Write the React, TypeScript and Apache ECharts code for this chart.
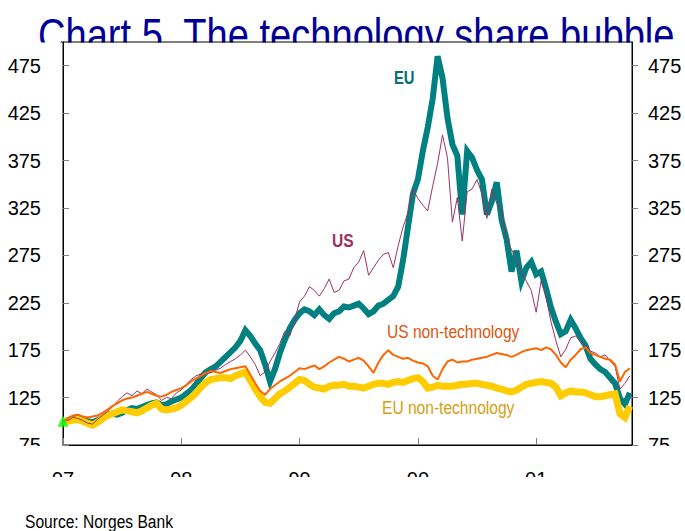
import React, { useEffect, useRef } from "react";
import * as echarts from "echarts";

// ---- data (semi-monthly readings, Jan 1997 = 100) ----
const startYear = 1997;
const stepYears = 1 / 24;

const eu = [
  100, 101, 103, 104, 102, 100, 99, 101, 104, 107, 108, 107, 109, 112, 114, 113, 115, 117, 119, 120,
  117, 118, 121, 123, 125, 129, 133, 139, 146, 152, 155, 158, 163, 168, 173, 178, 185, 196, 190, 182,
  175, 160, 142, 155, 172, 186, 198, 207, 214, 218, 216, 212, 218, 212, 208, 214, 216, 221, 220, 222,
  224, 219, 213, 216, 222, 224, 228, 232, 242, 270, 305, 340, 355, 385, 410, 440, 485, 462, 420, 392,
  380, 318, 385, 378, 365, 355, 318, 332, 352, 312, 292, 258, 280, 248, 262, 268, 255, 258, 240, 220,
  205, 192, 195, 207, 198, 188, 180, 166, 160, 155, 152, 146, 140, 124, 118, 130,
];

const us = [
  100, 101, 104, 103, 101, 98, 97, 102, 106, 110, 115, 121, 126, 130, 127, 132, 129, 134, 131, 128,
  122, 125, 124, 130, 133, 139, 144, 148, 150, 152, 151, 154, 156, 160, 163, 166, 170, 175, 168, 160,
  148, 152, 163, 172, 182, 195, 190, 207, 226, 232, 242, 238, 232, 240, 250, 236, 238, 248, 250, 262,
  268, 280, 254, 262, 270, 276, 278, 262, 285, 305, 320, 345, 335, 328, 322, 348, 372, 402, 378, 310,
  336, 290, 342, 345, 355, 340, 314, 345, 330, 322, 292, 281, 270, 256, 248, 238, 215, 248, 232, 205,
  185, 168, 176, 188, 190, 184, 180, 174, 172, 168, 170, 164, 158, 134, 140, 148,
];

const usNonTech = [
  100, 103, 106, 107, 105, 104, 105, 106, 109, 112, 116, 119, 122, 124, 125, 127, 129, 131, 129, 127,
  126, 128, 131, 133, 135, 138, 142, 145, 148, 151, 153, 152, 151, 153, 155, 156, 157, 158, 149, 140,
  132, 128, 134, 138, 142, 145, 148, 152, 156, 155, 157, 159, 155, 158, 162, 165, 168, 166, 163, 165,
  167, 164, 158, 151, 162, 170, 175, 170, 168, 166, 167, 164, 162, 161, 158, 148, 144, 155, 163, 165,
  162, 163, 163, 165, 166, 167, 168, 170, 172, 171, 170, 168, 170, 173, 175, 176, 177, 175, 178, 176,
  170, 162, 157, 165, 170, 176, 178, 172, 170, 168, 166, 165, 160, 142, 152, 156,
];

const euNonTech = [
  100, 100, 101, 102, 100, 98, 96, 99, 103, 106, 108, 110, 112, 111, 110, 109, 111, 114, 117, 119,
  113, 112, 113, 114, 117, 121, 125, 130, 136, 141, 144, 145, 146, 146, 145, 148, 150, 152, 143, 134,
  126, 120, 119, 124, 129, 132, 136, 140, 144, 143, 139, 136, 135, 134, 137, 138, 138, 139, 137, 137,
  136, 135, 137, 139, 140, 140, 139, 141, 142, 141, 143, 145, 146, 142, 135, 136, 138, 137, 137, 137,
  138, 139, 139, 140, 140, 139, 138, 137, 135, 134, 132, 131, 133, 136, 139, 140, 141, 142, 141, 140,
  136, 127, 130, 132, 131, 131, 130, 128, 126, 126, 127, 128, 129, 108, 104, 116,
];

const yTicks = [75, 125, 175, 225, 275, 325, 375, 425, 475];
const xTicks = [1997, 1998, 1999, 2000, 2001];
const xTickLabels = ["97", "98", "99", "00", "01"];

const titleText = "Chart 5  The technology share bubble";
const sourceText = "Source: Norges Bank";

const font = "'Liberation Sans', Arial, sans-serif";
const narrowScale = 0.82;

const toPairs = (arr: number[]) => arr.map((v, i) => [startYear + i * stepYears, v]);

const narrowText = (
  text: string,
  x: number,
  y: number,
  size: number,
  fill: string,
  z: number,
  weight: string = "normal",
  scale: number = narrowScale
) => ({
  type: "text",
  x,
  y,
  scaleX: scale,
  z,
  silent: true,
  style: {
    text,
    fontFamily: font,
    fontSize: size,
    fontWeight: weight,
    fill,
    align: "left",
    verticalAlign: "top",
  },
});

export default function App() {
  const ref = useRef<HTMLDivElement>(null);

  useEffect(() => {
    if (!ref.current) return;
    const chart = echarts.init(ref.current, undefined, { renderer: "svg" });

    const yAxisCommon = {
      type: "value",
      min: 75,
      max: 500,
      z: 5,
      splitLine: { show: false },
      axisLine: { show: true, lineStyle: { color: "#000", width: 1 } },
    };

    const option: any = {
      animation: false,
      backgroundColor: "#ffffff",
      grid: {
        left: 63,
        right: 53,
        top: 42,
        bottom: 86,
        show: true,
        borderColor: "#000",
        borderWidth: 1,
        backgroundColor: "transparent",
        z: 5,
      },
      xAxis: {
        type: "value",
        min: 1997,
        max: 2001.81,
        z: 5,
        splitLine: { show: false },
        axisLine: { show: true, lineStyle: { color: "#000", width: 1 } },
        axisTick: {
          inside: true,
          length: 7,
          customValues: xTicks,
          lineStyle: { color: "#808080", width: 1 },
        },
        axisLabel: {
          customValues: xTicks,
          formatter: (v: number) => {
            const idx = xTicks.indexOf(Math.round(v));
            return idx >= 0 ? xTickLabels[idx] : "";
          },
          margin: 24,
          fontFamily: font,
          fontSize: 20,
          color: "#000",
        },
      },
      yAxis: [
        {
          ...yAxisCommon,
          position: "left",
          axisTick: {
            inside: true,
            length: 6,
            customValues: yTicks,
            lineStyle: { color: "#808080", width: 1 },
          },
          axisLabel: {
            customValues: yTicks,
            margin: 22,
            fontFamily: font,
            fontSize: 20,
            color: "#000",
            padding: [0, 0, 5, 0],
          },
        },
        {
          ...yAxisCommon,
          position: "right",
          axisTick: {
            inside: false,
            length: 6,
            customValues: yTicks,
            lineStyle: { color: "#808080", width: 1 },
          },
          axisLabel: {
            customValues: yTicks,
            margin: 16,
            fontFamily: font,
            fontSize: 20,
            color: "#000",
            padding: [0, 0, 5, 0],
          },
        },
      ],
      series: [
        {
          name: "EU",
          type: "line",
          data: toPairs(eu),
          showSymbol: false,
          z: 6,
          lineStyle: { color: "#008080", width: 6, join: "miter" },
          itemStyle: { color: "#008080" },
        },
        {
          name: "EU non-technology",
          type: "line",
          data: toPairs(euNonTech),
          showSymbol: false,
          z: 6,
          lineStyle: { color: "#ffcc00", width: 7, join: "miter" },
          itemStyle: { color: "#ffcc00" },
        },
        {
          name: "US",
          type: "line",
          data: toPairs(us),
          showSymbol: false,
          z: 6,
          lineStyle: { color: "#993366", width: 1 },
          itemStyle: { color: "#993366" },
        },
        {
          name: "US non-technology",
          type: "line",
          data: toPairs(usNonTech),
          showSymbol: false,
          z: 6,
          lineStyle: { color: "#ff6600", width: 2 },
          itemStyle: { color: "#ff6600" },
        },
        {
          name: "start",
          type: "scatter",
          data: [[startYear, eu[0]]],
          symbol: "triangle",
          symbolSize: 11,
          clip: false,
          z: 7,
          itemStyle: { color: "#00ff00" },
        },
      ],
      graphic: [
        narrowText(titleText, 38, 12, 46, "#000099", 1, "normal", 0.828),
        { type: "rect", shape: { x: 0, y: 42.5, width: 685, height: 24 }, style: { fill: "#fff" }, z: 2, silent: true },
        { type: "rect", shape: { x: 0, y: 446, width: 685, height: 25 }, style: { fill: "#fff" }, z: 20, silent: true },
        { type: "rect", shape: { x: 0, y: 477, width: 685, height: 32 }, style: { fill: "#fff" }, z: 20, silent: true },
        narrowText("EU", 394, 68, 18, "#007070", 10, "bold"),
        narrowText("US", 332, 231, 19, "#993366", 10, "bold"),
        narrowText("US non-technology", 387, 322, 19, "#dd5511", 10),
        narrowText("EU non-technology", 382, 398, 19, "#d4a010", 10),
        narrowText(sourceText, 25, 512, 19, "#000", 10),
      ],
    };

    chart.setOption(option);
    return () => chart.dispose();
  }, []);

  return (
    <div
      ref={ref}
      style={{ position: "fixed", left: 0, top: 0, width: 685, height: 531, background: "#fff" }}
    />
  );
}
